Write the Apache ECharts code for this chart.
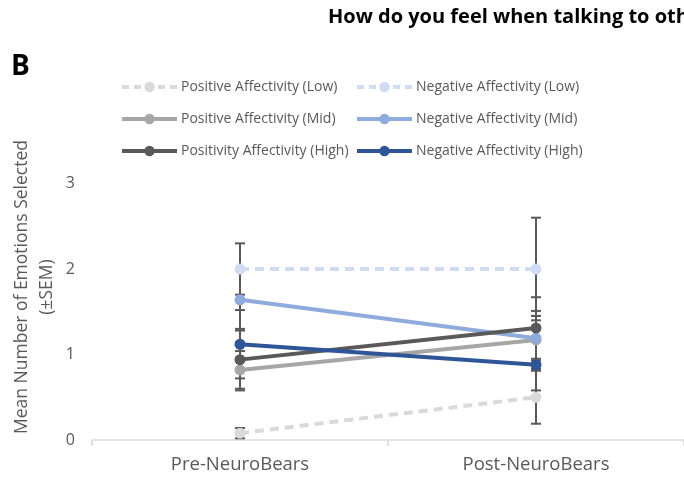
<!DOCTYPE html>
<html><head><meta charset="utf-8">
<script src="https://cdn.jsdelivr.net/npm/echarts@6/dist/echarts.min.js"></script>
<style>html,body{margin:0;padding:0;background:#fff;overflow:hidden}#c{width:684px;height:481px}</style>
</head><body><div id="c"></div>
<script>
const categories = ['Pre-NeuroBears', 'Post-NeuroBears'];
const seriesNames = [
  'Positive Affectivity (Low)', 'Negative Affectivity (Low)',
  'Positive Affectivity (Mid)', 'Negative Affectivity (Mid)',
  'Positivity Affectivity (High)', 'Negative Affectivity (High)'
];
const posLow = [0.08, 0.50];
const negLow = [2.00, 2.00];
const posMid = [0.82, 1.17];
const negMid = [1.64, 1.19];
const posHigh = [0.94, 1.31];
const negHigh = [1.12, 0.88];
const posLowSem = [0.06, 0.31];
const negLowSem = [0.30, 0.60];
const posMidSem = [0.22, 0.34];
const negMidSem = [0.36, 0.26];
const posHighSem = [0.36, 0.36];
const negHighSem = [0.40, 0.30];
const yTicks = [0, 1, 2, 3];

const values = [posLow, negLow, posMid, negMid, posHigh, negHigh];
const sems = [posLowSem, negLowSem, posMidSem, negMidSem, posHighSem, negHighSem];
const colors = ['#d9d9d9', '#cfdcf1', '#a6a6a6', '#8faadc', '#595959', '#2f5597'];
const dashed = [true, true, false, false, false, false];

const errData = [];
values.forEach((v, s) => v.forEach((val, i) => errData.push([i, val - sems[s][i], val + sems[s][i]])));

const series = [{
  type: 'custom', name: 'err', z: 1, silent: true,
  renderItem: function (params, api) {
    const lo = api.coord([api.value(0), api.value(1)]);
    const hi = api.coord([api.value(0), api.value(2)]);
    const w = 5;
    const st = { stroke: '#595959', lineWidth: 2 };
    return { type: 'group', children: [
      { type: 'line', shape: { x1: lo[0], y1: lo[1], x2: hi[0], y2: hi[1] }, style: st },
      { type: 'line', shape: { x1: lo[0] - w, y1: lo[1], x2: lo[0] + w, y2: lo[1] }, style: st },
      { type: 'line', shape: { x1: hi[0] - w, y1: hi[1], x2: hi[0] + w, y2: hi[1] }, style: st }
    ]};
  },
  encode: { x: 0, y: [1, 2] },
  data: errData
}];
values.forEach((v, s) => {
  series.push({
    type: 'line', name: seriesNames[s], data: v, z: 3 + s,
    symbol: 'circle', symbolSize: 11,
    itemStyle: { color: colors[s] },
    lineStyle: { color: colors[s], width: 4, type: dashed[s] ? [9, 6] : 'solid' }
  });
});

const legendPos = [[120, 80], [355, 80], [120, 112], [355, 112], [120, 144], [355, 144]];
const legends = seriesNames.map((n, i) => ({
  data: [n], left: legendPos[i][0], top: legendPos[i][1], padding: 0,
  itemWidth: 55, itemHeight: 13, itemGap: 4,
  lineStyle: { width: 4, type: dashed[i] ? [7, 5] : 'solid' },
  textStyle: { color: '#595959', fontSize: 14, fontFamily: 'Open Sans, sans-serif', padding: [0, 0, 0, -1] },
  selectedMode: false
}));

const chart = echarts.init(document.getElementById('c'), null, { renderer: 'canvas' });
chart.setOption({
  animation: false,
  backgroundColor: '#fff',
  legend: legends,
  graphic: [
    { type: 'text', left: 328, top: 7, style: { text: 'How do you feel when talking to others?', font: 'bold 20px "Open Sans", sans-serif', fill: '#000' } },
    { type: 'text', left: 11, top: 53, style: { text: 'B', font: 'bold 28px "Open Sans", sans-serif', fill: '#000' } },
    { type: 'text', x: 34.5, y: 287, rotation: Math.PI / 2, style: { text: 'Mean Number of Emotions Selected\n(±SEM)', font: '17.5px "Open Sans", sans-serif', fill: '#595959', align: 'center', verticalAlign: 'middle', lineHeight: 25 } }
  ],
  grid: { left: 92, right: -6, top: 183.5, bottom: 41 },
  xAxis: {
    type: 'category', data: categories, boundaryGap: true,
    axisLine: { lineStyle: { color: '#d9d9d9', width: 1.5 } },
    axisTick: { show: true, length: 6, lineStyle: { color: '#d9d9d9', width: 1.5 } },
    axisLabel: { color: '#595959', fontSize: 18.5, margin: 15, fontFamily: 'Open Sans, sans-serif' }
  },
  yAxis: {
    type: 'value', min: 0, max: 3, interval: 1,
    axisLine: { show: false }, axisTick: { show: false },
    splitLine: { show: false },
    axisLabel: { color: '#595959', fontSize: 16, margin: 17, fontFamily: 'Open Sans, sans-serif',
      formatter: v => yTicks.includes(v) ? String(v) : '' }
  },
  series: series
});
</script></body></html>
